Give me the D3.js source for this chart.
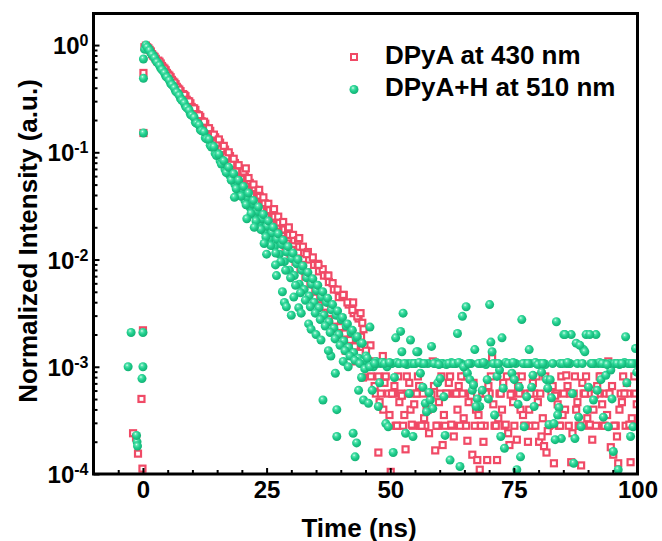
<!DOCTYPE html>
<html>
<head>
<meta charset="utf-8">
<script src="https://cdn.jsdelivr.net/npm/d3@7"></script>
<style>
  body { margin: 0; background: #fff; }
  text { font-family: "Liberation Sans", Arial, sans-serif; font-weight: bold; }
</style>
</head>
<body>
<div id="chart"></div>
<script>
// Fluorescence decay, two series on a log axis.
// Values are [time (ns), decade exponent].

const seriesNames = ["DPyA at 430 nm", "DPyA+H at 510 nm"];
const xMajor = [0, 25, 50, 75, 100];
const yMajor = [1e-4, 1e-3, 1e-2, 1e-1, 1];

// before time zero + rising edge
const redEdge = [[-2.0,-3.62],[-1.4,-3.66],[-1.0,-3.81],[-0.1,-3.95],[-0.3,-3.3],[0.0,-2.66],[0.1,-0.82],[0.1,-0.26],[0.3,-0.02]];
const greenEdge = [[-2.4,-2.68],[0.0,-2.68],[-3.0,-3.0],[0.0,-3.0],[-0.2,-3.11],[-1.2,-3.7],[-1.1,-3.74],[-1.3,-3.64],[0.1,-0.82],[0.1,-0.31],[0.1,-0.13],[0.35,-0.04]];

// decay part
const redDecay = [[0.6,-0.005],[1.1,-0.03],[1.6,-0.06],[2.1,-0.1],[2.6,-0.128],[3.1,-0.145],[3.6,-0.172],[4.1,-0.21],[4.6,-0.235],[5.1,-0.275],[5.6,-0.3],[6.1,-0.34],[6.6,-0.365],[7.1,-0.405],[7.6,-0.43],[8.1,-0.457],[8.6,-0.477],[9.1,-0.522],[9.6,-0.543],[10.1,-0.59],[10.6,-0.605],[11.1,-0.655],[11.6,-0.67],[12.1,-0.72],[12.6,-0.733],[13.1,-0.787],[13.6,-0.8],[14.1,-0.853],[14.6,-0.86],[15.1,-0.905],[15.6,-0.91],[16.1,-0.97],[16.6,-0.975],[17.1,-1.038],[17.6,-1.035],[18.1,-1.1],[18.6,-1.1],[19.1,-1.172],[19.6,-1.16],[20.1,-1.24],[20.6,-1.225],[21.1,-1.305],[21.6,-1.285],[22.1,-1.37],[22.6,-1.35],[23.1,-1.44],[23.6,-1.41],[24.1,-1.505],[24.6,-1.475],[25.1,-1.57],[25.6,-1.54],[26.1,-1.64],[26.6,-1.6],[27.1,-1.71],[27.6,-1.655],[28.1,-1.78],[28.6,-1.72],[29.1,-1.85],[29.6,-1.77],[30.1,-1.91],[30.6,-1.82],[31.1,-1.99],[31.6,-1.88],[32.1,-2.05],[32.6,-1.94],[33.1,-2.12],[33.6,-2.0],[34.1,-2.19],[34.6,-2.05],[35.1,-2.28],[35.6,-2.11],[36.1,-2.33],[36.6,-2.15],[37.1,-2.41],[37.6,-2.21],[38.1,-2.48],[38.6,-2.28],[39.1,-2.55],[39.6,-2.35],[40.1,-2.59],[40.6,-2.33],[41.1,-2.65],[41.6,-2.42],[42.1,-2.72],[42.6,-2.5],[43.1,-2.8],[43.6,-2.55],[44.1,-2.72],[44.6,-2.65]];
const redDecay2 = [[0.85,-0.02],[1.35,-0.045],[1.85,-0.085],[2.35,-0.11],[2.85,-0.15],[3.35,-0.155],[3.85,-0.195],[4.35,-0.22],[4.85,-0.26],[5.35,-0.285],[5.85,-0.325],[6.35,-0.35],[6.85,-0.39],[7.35,-0.415],[7.85,-0.458],[8.35,-0.465],[8.85,-0.51],[9.35,-0.525],[9.85,-0.577],[10.35,-0.59],[10.85,-0.645],[11.35,-0.655],[11.85,-0.71],[12.35,-0.715],[12.85,-0.78],[13.35,-0.775],[13.85,-0.845],[14.35,-0.835],[14.85,-0.915],[15.35,-0.88],[15.85,-0.97],[16.35,-0.94],[16.85,-1.04],[17.35,-1.0],[17.85,-1.11],[18.35,-1.06],[18.85,-1.18],[19.35,-1.12],[19.85,-1.25],[20.35,-1.18],[20.85,-1.32],[21.35,-1.24],[21.85,-1.39],[22.35,-1.3],[22.85,-1.46],[23.35,-1.36],[23.85,-1.53],[24.35,-1.42],[24.85,-1.6],[25.35,-1.48],[25.85,-1.67],[26.35,-1.54],[26.85,-1.74],[27.35,-1.6],[27.85,-1.81],[28.35,-1.65],[28.85,-1.88],[29.35,-1.71],[29.85,-1.95],[30.35,-1.77],[30.85,-2.02],[31.35,-1.82],[31.85,-2.09],[32.35,-1.88],[32.85,-2.16],[33.35,-1.93],[33.85,-2.23],[34.35,-1.98],[34.85,-2.3],[35.35,-2.04],[35.85,-2.37],[36.35,-2.09],[36.85,-2.44],[37.35,-2.15],[37.85,-2.5],[38.35,-2.22],[38.85,-2.57],[39.35,-2.28],[39.85,-2.63],[40.35,-2.35],[40.85,-2.69],[41.35,-2.4],[41.85,-2.75],[42.35,-2.47],[42.85,-2.81],[43.35,-2.53],[43.85,-2.87],[44.35,-2.59],[44.85,-2.95]];
const greenDecay = [[0.6,0],[1.1,-0.03],[1.6,-0.072],[2.1,-0.1],[2.6,-0.145],[3.1,-0.17],[3.6,-0.215],[4.1,-0.24],[4.6,-0.288],[5.1,-0.31],[5.6,-0.358],[6.1,-0.38],[6.6,-0.43],[7.1,-0.45],[7.6,-0.5],[8.1,-0.52],[8.6,-0.57],[9.1,-0.59],[9.6,-0.645],[10.1,-0.66],[10.6,-0.72],[11.1,-0.73],[11.6,-0.79],[12.1,-0.8],[12.6,-0.865],[13.1,-0.87],[13.6,-0.935],[14.1,-0.94],[14.6,-1.01],[15.1,-1.01],[15.6,-1.08],[16.1,-1.075],[16.6,-1.16],[17.1,-1.145],[17.6,-1.22],[18.1,-1.215],[18.6,-1.3],[19.1,-1.28],[19.6,-1.37],[20.1,-1.35],[20.6,-1.45],[21.1,-1.42],[21.6,-1.51],[22.1,-1.48],[22.6,-1.59],[23.1,-1.55],[23.6,-1.66],[24.1,-1.62],[24.6,-1.74],[25.1,-1.69],[25.6,-1.81],[26.1,-1.75],[26.6,-1.88],[27.1,-1.81],[27.6,-1.95],[28.1,-1.86],[28.6,-2.02],[29.1,-1.93],[29.6,-2.1],[30.1,-1.99],[30.6,-2.15],[31.1,-2.04],[31.6,-2.23],[32.1,-2.1],[32.6,-2.28],[33.1,-2.17],[33.6,-2.34],[34.1,-2.23],[34.6,-2.4],[35.1,-2.29],[35.6,-2.45],[36.1,-2.35],[36.6,-2.52],[37.1,-2.4],[37.6,-2.58],[38.1,-2.47],[38.6,-2.64],[39.1,-2.52],[39.6,-2.7],[40.1,-2.56],[40.6,-2.76],[41.1,-2.62],[41.6,-2.82],[42.1,-2.68],[42.6,-2.87],[43.1,-2.73],[43.6,-2.92],[44.1,-2.78],[44.6,-2.95]];
const greenDecay2 = [[0.85,-0.02],[1.35,-0.05],[1.85,-0.09],[2.35,-0.12],[2.85,-0.16],[3.35,-0.19],[3.85,-0.23],[4.35,-0.26],[4.85,-0.3],[5.35,-0.33],[5.85,-0.37],[6.35,-0.4],[6.85,-0.44],[7.35,-0.47],[7.85,-0.515],[8.35,-0.54],[8.85,-0.585],[9.35,-0.61],[9.85,-0.655],[10.35,-0.675],[10.85,-0.73],[11.35,-0.745],[11.85,-0.8],[12.35,-0.81],[12.85,-0.875],[13.35,-0.88],[13.85,-0.95],[14.35,-0.95],[14.85,-1.03],[15.35,-1.02],[15.85,-1.11],[16.35,-1.08],[16.85,-1.19],[17.35,-1.14],[17.85,-1.26],[18.35,-1.2],[18.85,-1.34],[19.35,-1.26],[19.85,-1.41],[20.35,-1.32],[20.85,-1.49],[21.35,-1.38],[21.85,-1.57],[22.35,-1.45],[22.85,-1.64],[23.35,-1.51],[23.85,-1.72],[24.35,-1.58],[24.85,-1.79],[25.35,-1.64],[25.85,-1.87],[26.35,-1.7],[26.85,-1.94],[27.35,-1.76],[27.85,-2.02],[28.35,-1.82],[28.85,-2.1],[29.35,-1.88],[29.85,-2.17],[30.35,-1.94],[30.85,-2.24],[31.35,-2.0],[31.85,-2.31],[32.35,-2.06],[32.85,-2.38],[33.35,-2.12],[33.85,-2.44],[34.35,-2.18],[34.85,-2.5],[35.35,-2.24],[35.85,-2.56],[36.35,-2.3],[36.85,-2.62],[37.35,-2.36],[37.85,-2.68],[38.35,-2.42],[38.85,-2.74],[39.35,-2.48],[39.85,-2.8],[40.35,-2.54],[40.85,-2.85],[41.35,-2.6],[41.85,-2.9],[42.35,-2.66],[42.85,-2.94],[43.35,-2.72],[43.85,-2.97],[44.35,-2.78],[44.85,-3.02]];

// scattered points around the tail
const redScatter = [[20.8,-1.15],[23.5,-1.35],[26.5,-1.53],[29.5,-1.7],[31.6,-1.8],[33.1,-1.95],[35.5,-2.05],[37.5,-2.15],[40.5,-2.33],[42.5,-2.4],[44.0,-2.5],[36.0,-2.5],[39.0,-2.7],[41.0,-2.85],[43.0,-2.95],[44.5,-3.1],[46.0,-2.8],[47.6,-3.8],[48.5,-2.9]];
const greenScatter = [[18.5,-1.42],[21.0,-1.62],[22.5,-1.7],[24.5,-1.85],[25.0,-1.95],[26.8,-2.05],[27.0,-2.15],[28.2,-2.3],[28.6,-2.4],[29.0,-2.44],[30.0,-2.52],[30.5,-2.35],[31.5,-2.45],[32.0,-2.5],[33.5,-2.6],[34.0,-2.65],[35.0,-2.7],[36.0,-2.75],[38.0,-2.9],[36.4,-3.31],[38.9,-3.06],[39.2,-3.4],[39.2,-3.65],[37.5,-2.85],[40.5,-2.95],[41.5,-3.0],[42.5,-3.62],[43.2,-3.71],[42.9,-3.84],[44.2,-3.1],[43.6,-3.22],[44.6,-3.31],[45.9,-2.63]];

// background floor after ~45 ns
const redFloor = [[45.1,-2.85],[45.6,-2.95],[46.1,-3.09],[46.6,-2.95],[47.1,-3.25],[47.6,-3.09],[48.1,-3.25],[48.6,-3.4],[49.1,-3.09],[49.6,-3.25],
  [50.1,-3.98],[50.6,-3.25],[51.1,-3.55],[51.6,-3.09],[52.1,-3.25],[52.6,-3.55],[53.1,-3.77],[53.6,-3.25],[54.1,-3.4],[54.6,-3.55],
  [55.1,-3.25],[55.6,-3.09],[56.1,-3.55],[56.6,-3.25],[57.1,-3.55],[57.6,-3.4],[58.1,-3.25],[58.6,-2.95],[59.1,-3.78],[59.6,-3.55],
  [60.1,-3.25],[60.6,-3.73],[61.1,-3.55],[61.6,-3.25],[62.1,-3.09],[62.6,-3.55],[63.1,-3.25],[63.6,-3.4],[64.1,-3.55],[64.6,-3.25],
  [65.1,-3.09],[65.6,-3.69],[66.1,-3.25],[66.6,-3.82],[67.1,-3.55],[67.6,-3.87],[68.1,-3.96],[68.6,-3.25],[69.1,-3.55],[69.6,-3.87],
  [70.1,-3.25],[70.6,-2.92],[71.1,-3.55],[71.6,-3.87],[72.1,-3.25],[72.6,-3.4],[73.1,-3.55],[73.6,-3.09],[74.1,-3.73],[74.6,-3.25],
  [75.1,-3.55],[75.6,-3.68],[76.1,-3.25],[76.6,-3.09],[77.1,-3.55],[77.6,-3.25],[78.1,-3.4],[78.6,-3.55],[79.1,-3.25],[79.6,-3.09],
  [80.1,-3.7],[80.6,-3.65],[81.1,-3.74],[81.6,-3.8],[82.1,-3.55],[82.6,-3.25],[83.1,-3.9],[83.6,-3.25],[84.1,-3.55],[84.6,-3.09],
  [85.1,-3.25],[85.6,-3.08],[86.1,-3.55],[86.6,-3.89],[87.1,-3.25],[87.6,-3.4],[88.1,-3.55],[88.6,-3.92],[89.1,-3.25],[89.6,-3.09],
  [90.1,-3.55],[90.6,-3.25],[91.1,-3.4],[91.6,-3.55],[92.1,-3.25],[92.6,-3.09],[93.1,-3.55],[93.6,-3.25],[94.1,-2.95],[94.6,-3.75],
  [95.1,-3.82],[95.6,-3.55],[96.1,-3.9],[96.6,-3.25],[97.1,-3.09],[97.6,-3.55],[98.1,-3.25],[98.6,-3.89],[99.1,-3.55],[99.6,-3.25]];
const redFloor2 = [[50.35,-3.25],[51.35,-3.55],[52.35,-3.27],[53.35,-3.09],[54.35,-3.54],[55.35,-3.25],[56.35,-3.55],[57.35,-3.4],[58.35,-3.26],[59.35,-3.55],
  [60.35,-3.09],[61.35,-3.25],[62.35,-3.54],[63.35,-3.25],[64.35,-3.09],[65.35,-3.55],[66.35,-3.27],[67.35,-3.4],[68.35,-3.55],[69.35,-3.25],
  [70.35,-3.09],[71.35,-3.55],[72.35,-3.25],[73.35,-3.54],[74.35,-3.26],[75.35,-3.09],[76.35,-3.4],[77.35,-3.55],[78.35,-3.25],[79.35,-3.55],
  [80.35,-3.25],[81.35,-3.09],[82.35,-3.54],[83.35,-3.27],[84.35,-3.55],[85.35,-3.4],[86.35,-3.25],[87.35,-3.09],[88.35,-3.55],[89.35,-3.25],
  [90.35,-3.54],[91.35,-3.26],[92.35,-3.09],[93.35,-3.55],[94.35,-3.25],[95.35,-3.55],[96.35,-3.4],[97.35,-3.25],[98.35,-3.54],[99.35,-3.09]];
const redFloor3 = [[45.85,-3.0],[46.85,-3.18],[47.85,-3.33],[48.85,-3.15],[49.85,-3.45],[50.85,-3.18],[51.85,-3.33],[52.85,-3.45],[53.85,-3.15],[54.85,-3.35],
  [55.85,-3.18],[56.85,-3.48],[57.85,-3.62],[58.85,-3.18],[59.85,-3.33],[60.85,-3.45],[61.85,-3.15],[62.85,-3.65],[63.85,-3.18],[64.85,-3.48],
  [65.85,-3.33],[66.85,-3.15],[67.85,-3.45],[68.85,-3.7],[69.85,-3.18],[70.85,-3.35],[71.85,-3.48],[72.85,-3.15],[73.85,-3.62],[74.85,-3.33],
  [75.85,-3.18],[76.85,-3.45],[77.85,-3.7],[78.85,-3.15],[79.85,-3.33],[80.85,-3.48],[81.85,-3.6],[82.85,-3.18],[83.85,-3.35],[84.85,-3.45],
  [85.85,-3.18],[86.85,-3.62],[87.85,-3.33],[88.85,-3.15],[89.85,-3.48],[90.85,-3.68],[91.85,-3.18],[92.85,-3.35],[93.85,-3.45],[94.85,-3.18],
  [95.85,-3.65],[96.85,-3.33],[97.85,-3.15],[98.85,-3.48],[99.85,-3.35]];
const greenFloor = [[45.1,-2.9],[45.6,-3.34],[46.1,-2.97],[46.6,-3.0],[47.1,-2.95],[47.6,-3.37],[48.1,-2.97],[48.6,-2.96],[49.1,-3.53],[49.6,-3.56],
  [50.1,-2.97],[50.6,-3.8],[51.1,-2.73],[51.6,-2.97],[52.1,-2.67],[52.6,-2.5],[53.1,-3.62],[53.6,-2.97],[54.1,-2.75],[54.6,-3.65],
  [55.1,-2.97],[55.6,-2.86],[56.1,-3.06],[56.6,-3.19],[57.1,-3.34],[57.6,-2.97],[58.1,-3.31],[58.6,-3.39],[59.1,-2.97],[59.6,-3.15],
  [60.1,-3.11],[60.6,-2.97],[61.1,-3.64],[61.6,-2.97],[62.1,-3.87],[62.6,-2.97],[63.1,-2.97],[63.6,-2.69],[64.1,-3.93],[64.6,-2.53],
  [65.1,-3.01],[65.6,-3.06],[66.1,-3.12],[66.6,-3.22],[67.1,-2.84],[67.6,-3.3],[68.1,-3.37],[68.6,-3.22],[69.1,-2.97],[69.6,-3.12],
  [70.1,-2.42],[70.6,-2.86],[71.1,-3.45],[71.6,-3.09],[72.1,-3.03],[72.6,-2.73],[73.1,-3.76],[73.6,-2.97],[74.1,-2.97],[74.6,-3.06],
  [75.1,-3.12],[75.6,-3.96],[76.1,-3.19],[76.6,-2.56],[77.1,-3.56],[77.6,-3.28],[78.1,-2.84],[78.6,-3.19],[79.1,-3.37],[79.6,-2.97],
  [80.1,-2.97],[80.6,-3.05],[81.1,-2.97],[81.6,-3.12],[82.1,-3.54],[82.6,-3.29],[83.1,-3.53],[83.6,-2.58],[84.1,-3.38],[84.6,-3.67],
  [85.1,-2.7],[85.6,-2.97],[86.1,-2.97],[86.6,-2.7],[87.1,-3.9],[87.6,-2.78],[88.1,-3.47],[88.6,-3.56],[89.1,-2.84],[89.6,-2.7],
  [90.1,-3.19],[90.6,-2.97],[91.1,-3.31],[91.6,-2.7],[92.1,-2.97],[92.6,-3.12],[93.1,-3.47],[93.6,-3.08],[94.1,-3.56],[94.6,-3.03],
  [95.1,-3.79],[95.6,-2.97],[96.1,-3.96],[96.6,-2.97],[97.1,-2.97],[97.6,-2.72],[98.1,-2.97],[98.6,-3.65],[99.1,-3.56],[99.6,-2.83]];
const greenFloor2 = [[45.35,-2.92],[46.35,-3.22],[47.35,-2.97],[48.35,-2.96],[49.35,-3.0],[50.35,-2.97],[51.35,-2.96],[52.35,-2.86],[53.35,-2.98],[54.35,-2.97],
  [55.35,-2.86],[56.35,-2.97],[57.35,-3.42],[58.35,-2.81],[59.35,-2.96],[60.35,-2.97],[61.35,-2.98],[62.35,-2.96],[63.35,-2.97],[64.35,-2.97],
  [65.35,-2.44],[66.35,-2.97],[67.35,-3.37],[68.35,-2.97],[69.35,-2.98],[70.35,-2.77],[71.35,-2.97],[72.35,-3.65],[73.35,-2.96],[74.35,-2.97],
  [75.35,-2.97],[76.35,-3.84],[77.35,-2.97],[78.35,-2.97],[79.35,-2.96],[80.35,-2.97],[81.35,-2.98],[82.35,-3.12],[83.35,-3.68],[84.35,-2.97],
  [85.35,-2.7],[86.35,-2.97],[87.35,-3.67],[88.35,-2.8],[89.35,-2.86],[90.35,-2.7],[91.35,-2.97],[92.35,-2.96],[93.35,-2.97],[94.35,-2.97],
  [95.35,-2.97],[96.35,-2.98],[97.35,-2.96],[98.35,-2.97],[99.35,-2.97]];
const greenFloor3 = [[45.85,-3.0],[46.85,-2.97],[47.85,-3.15],[48.85,-2.97],[49.85,-2.96],[50.85,-3.1],[51.85,-2.97],[52.85,-2.97],[53.85,-3.25],[54.85,-2.97],
  [55.85,-2.96],[56.85,-2.97],[57.85,-3.24],[58.85,-2.97],[59.85,-2.98],[60.85,-3.28],[61.85,-2.97],[62.85,-2.97],[63.85,-2.96],[64.85,-3.0],
  [65.85,-2.97],[66.85,-3.17],[67.85,-2.97],[68.85,-2.96],[69.85,-3.3],[70.85,-2.97],[71.85,-2.97],[72.85,-3.2],[73.85,-2.97],[74.85,-2.96],
  [75.85,-3.35],[76.85,-2.97],[77.85,-2.97],[78.85,-3.08],[79.85,-2.98],[80.85,-2.97],[81.85,-3.2],[82.85,-2.97],[83.85,-3.45],[84.85,-2.97],
  [85.85,-2.96],[86.85,-3.25],[87.85,-2.97],[88.85,-2.97],[89.85,-3.4],[90.85,-2.97],[91.85,-3.22],[92.85,-2.97],[93.85,-2.98],[94.85,-3.3],
  [95.85,-2.97],[96.85,-2.97],[97.85,-3.15],[98.85,-2.97],[99.85,-3.05]];

const redColor = "#f04a66";
const width = 662, height = 541;
const plot = { left: 93.5, right: 637.5, top: 13.5, bottom: 474 };

const svg = d3.select("#chart").append("svg")
  .attr("width", width)
  .attr("height", height)
  .style("display", "block");

svg.append("rect").attr("width", width).attr("height", height).attr("fill", "#fff");

const x = d3.scaleLinear().domain([-10, 100]).range([plot.left, plot.right]);
const y = d3.scaleLog().domain([1e-4, 1.97]).range([plot.bottom, plot.top]);

const defs = svg.append("defs");
defs.append("clipPath").attr("id", "plotClip")
  .append("rect")
  .attr("x", plot.left).attr("y", plot.top)
  .attr("width", plot.right - plot.left).attr("height", plot.bottom - plot.top);

const grad = defs.append("radialGradient").attr("id", "ball")
  .attr("cx", "42%").attr("cy", "38%").attr("r", "62%")
  .attr("fx", "38%").attr("fy", "32%");
grad.append("stop").attr("offset", "0%").attr("stop-color", "#e6fff3");
grad.append("stop").attr("offset", "22%").attr("stop-color", "#5ce5b1");
grad.append("stop").attr("offset", "55%").attr("stop-color", "#20cf8e");
grad.append("stop").attr("offset", "100%").attr("stop-color", "#13b174");

const toPoint = d => ({ t: d[0], v: Math.pow(10, d[1]) });
const redData = [...redEdge, ...redDecay, ...redDecay2, ...redScatter, ...redFloor, ...redFloor2, ...redFloor3].map(toPoint);
const greenData = [...greenEdge, ...greenDecay, ...greenDecay2, ...greenScatter, ...greenFloor, ...greenFloor2, ...greenFloor3].map(toPoint);

const marks = svg.append("g").attr("clip-path", "url(#plotClip)");

marks.selectAll("rect.red")
  .data(redData)
  .enter().append("rect")
    .attr("class", "red")
    .attr("x", d => x(d.t) - 3)
    .attr("y", d => y(d.v) - 3)
    .attr("width", 6)
    .attr("height", 6)
    .attr("fill", "#fff")
    .attr("stroke", redColor)
    .attr("stroke-width", 2.2);

marks.selectAll("circle.green")
  .data(greenData)
  .enter().append("circle")
    .attr("class", "green")
    .attr("cx", d => x(d.t))
    .attr("cy", d => y(d.v))
    .attr("r", 4.5)
    .attr("fill", "url(#ball)");

// x axis: major + minor inward ticks
const xMinor = d3.range(-5, 100, 5).filter(v => !xMajor.includes(v));
const xAxisG = svg.append("g").attr("transform", `translate(0,${plot.bottom})`);
xAxisG.call(d3.axisBottom(x).tickValues(xMinor).tickFormat("").tickSize(-4))
  .call(g => g.select(".domain").remove());
const xAxisMajor = svg.append("g").attr("transform", `translate(0,${plot.bottom})`);
xAxisMajor.call(d3.axisBottom(x).tickValues(xMajor).tickFormat(d3.format("d")).tickSize(-6).tickPadding(7))
  .call(g => g.select(".domain").remove());
xAxisMajor.selectAll("text")
  .attr("font-size", 24).attr("fill", "#000")
  .style("font-family", "'Liberation Sans', Arial, sans-serif").style("font-weight", "bold");

// y axis: decades + minor ticks
const yMinor = [];
yMajor.slice(0, -1).forEach(b => { for (let k = 2; k <= 9; k++) yMinor.push(b * k); });
const yAxisMinor = svg.append("g").attr("transform", `translate(${plot.left},0)`);
yAxisMinor.call(d3.axisLeft(y).tickValues(yMinor).tickFormat("").tickSize(-4))
  .call(g => g.select(".domain").remove());
const yAxisMajor = svg.append("g").attr("transform", `translate(${plot.left},0)`);
yAxisMajor.call(d3.axisLeft(y).tickValues(yMajor).tickFormat("").tickSize(-6).tickPadding(5))
  .call(g => g.select(".domain").remove());
svg.selectAll("g.tick line").attr("stroke-width", 2);
yAxisMajor.selectAll(".tick text").each(function(d) {
  const t = d3.select(this)
    .attr("font-size", 24).attr("fill", "#000")
    .attr("dy", null).attr("y", 8.5)
    .style("font-family", "'Liberation Sans', Arial, sans-serif").style("font-weight", "bold");
  t.text(null);
  t.append("tspan").text("10");
  t.append("tspan").attr("dy", -8).attr("font-size", 16)
    .text(String(Math.round(Math.log10(d))));
});

// frame
svg.append("rect")
  .attr("x", plot.left).attr("y", plot.top)
  .attr("width", plot.right - plot.left).attr("height", plot.bottom - plot.top)
  .attr("fill", "none").attr("stroke", "#000").attr("stroke-width", 3);

// axis titles
svg.append("text")
  .attr("x", 359).attr("y", 536.5)
  .attr("text-anchor", "middle").attr("font-size", 26)
  .text("Time (ns)");
svg.append("text")
  .attr("transform", "translate(37,241) rotate(-90)")
  .attr("text-anchor", "middle").attr("font-size", 26)
  .text("Normalized Intensity (a.u.)");

// legend
const legend = svg.append("g");
legend.append("rect")
  .attr("x", 351).attr("y", 54).attr("width", 6).attr("height", 6)
  .attr("fill", "#fff").attr("stroke", redColor).attr("stroke-width", 2);
legend.append("circle")
  .attr("cx", 354).attr("cy", 89.5).attr("r", 4.5).attr("fill", "url(#ball)");
legend.selectAll("text.leg")
  .data(seriesNames)
  .enter().append("text")
    .attr("class", "leg")
    .attr("x", 385)
    .attr("y", (d, i) => 63.5 + i * 32)
    .attr("font-size", 26)
    .text(d => d);
</script>
</body>
</html>
